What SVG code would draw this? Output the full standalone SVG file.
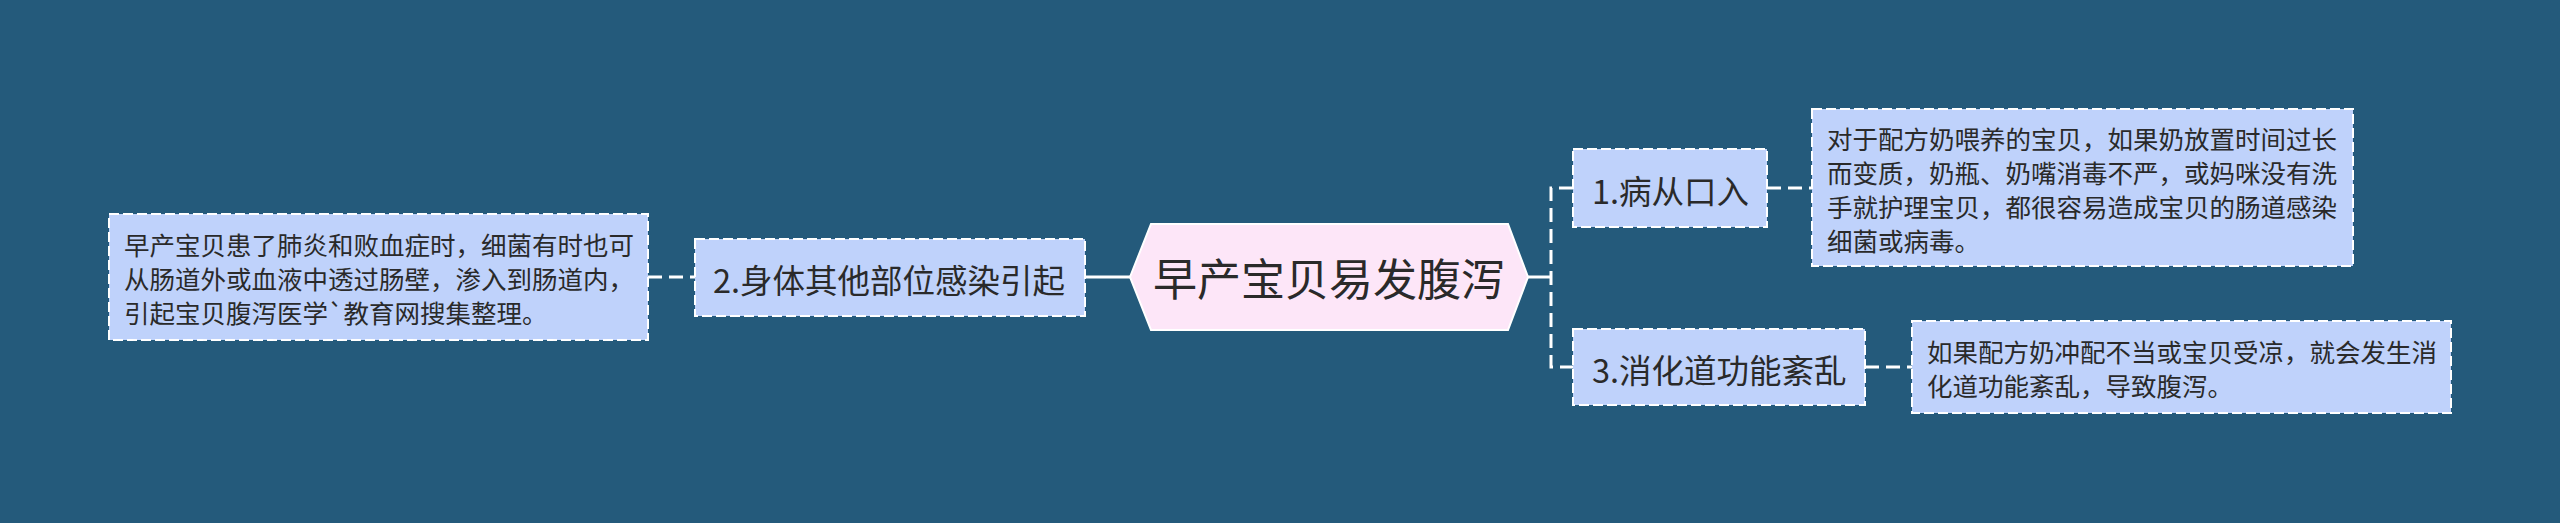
<svg xmlns="http://www.w3.org/2000/svg" width="2560" height="523" viewBox="0 0 2560 523">
<style>
.bg{fill:#245a7b}
.box{fill:#bfd2fb;stroke:#ffffff;stroke-width:2;stroke-dasharray:10 4}
.center{fill:#fde6f8;stroke:#ffffff;stroke-width:2}
.t{font-family:"Noto Sans CJK SC","Noto Sans",sans-serif;fill:#2a2a2a;dominant-baseline:central}
.tc{font-size:44px;text-anchor:middle}
.tb{font-size:32.5px}
.tl{font-size:25.5px}
.dash{fill:none;stroke:#ffffff;stroke-width:3;stroke-dasharray:14 7}
.solid{fill:none;stroke:#ffffff;stroke-width:3}
</style>
<rect class="bg" x="0" y="0" width="2560" height="523"/>
<g id="connectors">
<line class="dash" x1="648" y1="277" x2="695" y2="277"/>
<line class="dash" x1="1085" y1="277" x2="1097" y2="277"/>
<line class="solid" x1="1097" y1="277" x2="1131" y2="277"/>
<line class="solid" x1="1527" y1="277" x2="1551" y2="277"/>
<path class="dash" d="M1573 188 H1551 V367 H1573"/>
<line class="dash" x1="1767" y1="188" x2="1812" y2="188"/>
<line class="dash" x1="1865" y1="367" x2="1912" y2="367"/>
</g>
<g id="center">
<polygon class="center" points="1130,277 1151,224 1508,224 1528,277 1508,330 1151,330"/>
<text class="t tc" x="1329" y="277">早产宝贝易发腹泻</text>
</g>
<g id="node2">
<rect class="box" x="695" y="239" width="390" height="77"/>
<text class="t tb" x="713" y="278">2.身体其他部位感染引起</text>
</g>
<g id="leaf2">
<rect class="box" x="109" y="214" width="539" height="126"/>
<text class="t tl" x="124" y="243">早产宝贝患了肺炎和败血症时，细菌有时也可</text>
<text class="t tl" x="124" y="277">从肠道外或血液中透过肠壁，渗入到肠道内，</text>
<text class="t tl" x="124" y="311">引起宝贝腹泻医学`教育网搜集整理。</text>
</g>
<g id="node1">
<rect class="box" x="1573" y="149" width="194" height="78"/>
<text class="t tb" x="1592" y="189">1.病从口入</text>
</g>
<g id="leaf1">
<rect class="box" x="1812" y="109" width="541" height="157"/>
<text class="t tl" x="1827" y="137">对于配方奶喂养的宝贝，如果奶放置时间过长</text>
<text class="t tl" x="1827" y="171">而变质，奶瓶、奶嘴消毒不严，或妈咪没有洗</text>
<text class="t tl" x="1827" y="205">手就护理宝贝，都很容易造成宝贝的肠道感染</text>
<text class="t tl" x="1827" y="239">细菌或病毒。</text>
</g>
<g id="node3">
<rect class="box" x="1573" y="329" width="292" height="76"/>
<text class="t tb" x="1592" y="368">3.消化道功能紊乱</text>
</g>
<g id="leaf3">
<rect class="box" x="1912" y="321" width="539" height="92"/>
<text class="t tl" x="1927" y="350">如果配方奶冲配不当或宝贝受凉，就会发生消</text>
<text class="t tl" x="1927" y="384">化道功能紊乱，导致腹泻。</text>
</g>
</svg>
